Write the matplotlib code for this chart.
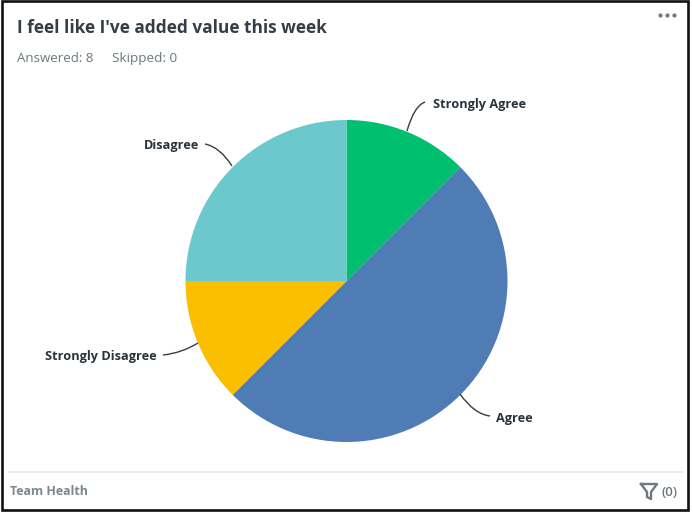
import numpy as np
import matplotlib
matplotlib.use("Agg")
import matplotlib.pyplot as plt
from matplotlib.patches import Rectangle, PathPatch
from matplotlib.path import Path

# Survey counts, clockwise from 12 o'clock
categories = ["Strongly Agree", "Agree", "Strongly Disagree", "Disagree"]
counts = [1, 4, 1, 2]
colors = ["#00BF6F", "#507CB6", "#F9BE00", "#6BC8CD"]

title = "I feel like I've added value this week"
answered = "Answered: 8"
skipped = "Skipped: 0"
footer = "Team Health"
filter_count = "(0)"

W, H = 693, 516
plt.rcParams["font.family"] = ["Open Sans", "DejaVu Sans"]

fig = plt.figure(figsize=(W / 100, H / 100), dpi=100)
ax = fig.add_axes([0, 0, 1, 1])


def Y(y):
    # pixel row in the picture to data y
    return H - y


ax.pie(counts, colors=colors, startangle=90, counterclock=False,
       center=(346.5, Y(281)), radius=161, wedgeprops={"linewidth": 0})
ax.set_xlim(0, W)
ax.set_ylim(0, H)
ax.set_aspect("equal")
ax.axis("off")

# outer black frame
ax.add_patch(Rectangle((1.5, Y(510)), 686.5, 509, fill=False, ec="#111111", lw=1.9))

ax.text(17, Y(33), title, fontsize=12.4, fontweight="bold", color="#333E48", va="baseline")
ax.text(17, Y(62), answered, fontsize=9.5, color="#6B787F", va="baseline")
ax.text(112, Y(62), skipped, fontsize=9.7, color="#6B787F", va="baseline")

# menu dots
ax.scatter([660, 667, 674], [Y(15)] * 3, s=9, color="#6B787F", linewidths=0)

# footer
ax.plot([9, 682], [Y(472), Y(472)], color="#E3E6E8", lw=1.2)
ax.text(10, Y(495), footer, fontsize=8.9, fontweight="bold", color="#7A878E", va="baseline")
ax.text(661, Y(496), filter_count, fontsize=9.6, fontweight="semibold", color="#6B787F", va="baseline")
funnel = [(641, 484), (657, 484), (651, 492), (651, 499), (647, 497), (647, 492), (641, 484)]
ax.plot([p[0] for p in funnel], [Y(p[1]) for p in funnel], color="#6B787F", lw=1.7)

# leader lines and labels
leaders = {
    "Strongly Agree": ((407, 131), (414, 106), (425, 102)),
    "Agree": ((460, 394), (474, 414), (490, 416)),
    "Strongly Disagree": ((198, 343), (182, 353), (163, 355)),
    "Disagree": ((232, 166), (220, 147), (205, 144)),
}
label_pos = {
    "Strongly Agree": (433, 108, "left"),
    "Agree": (496, 422, "left"),
    "Strongly Disagree": (157, 360, "right"),
    "Disagree": (199, 149, "right"),
}
for name in categories:
    a, b, c = leaders[name]
    verts = [(a[0], Y(a[1])), (b[0], Y(b[1])), (c[0], Y(c[1]))]
    ax.add_patch(PathPatch(Path(verts, [Path.MOVETO, Path.CURVE3, Path.CURVE3]),
                           fill=False, ec="#333E48", lw=1.0))
    x, y, ha = label_pos[name]
    ax.text(x, Y(y), name, fontsize=9.2, fontweight="bold", color="#2A333A", ha=ha, va="baseline")

fig.savefig("out.png", dpi=100, facecolor="white")
